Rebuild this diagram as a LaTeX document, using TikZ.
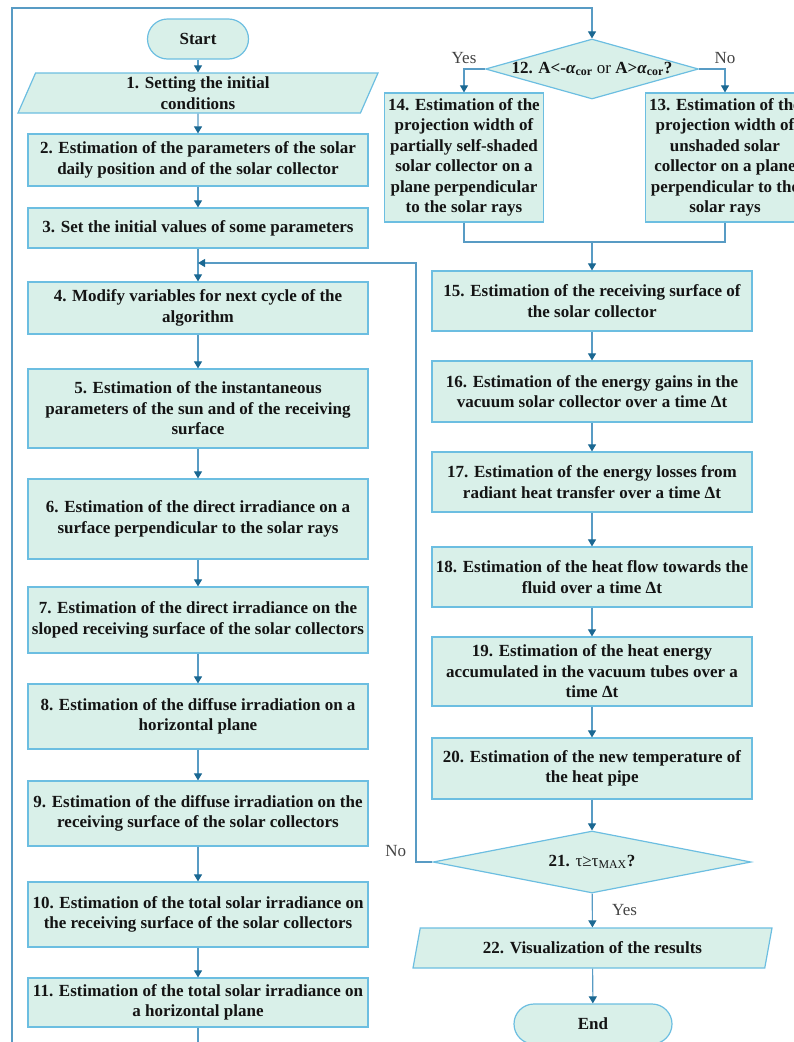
\documentclass[tikz,border=0pt]{standalone}
\usepackage{fontspec}
\setmainfont{Liberation Serif}
\usepackage{xcolor}
\usepackage{tikz}
\usetikzlibrary{positioning,shapes.geometric,arrows.meta}

\definecolor{boxfill}{RGB}{217,240,233}
\definecolor{boxline}{RGB}{108,190,225}
\definecolor{linkline}{RGB}{88,155,196}
\definecolor{tipcol}{RGB}{27,104,146}
\definecolor{txtcol}{RGB}{20,20,20}

\begin{document}
\begin{tikzpicture}[x=1pt, y=-1pt,
  procnode/.style={rectangle, draw=boxline, fill=boxfill, line width=1.2pt, align=center, inner sep=1pt, minimum width=340pt, text=txtcol, font=\bfseries\fontsize{17}{20.5}\selectfont},
  ionode/.style={trapezium, trapezium left angle=63, trapezium right angle=117, trapezium stretches body, draw=boxline, fill=boxfill, line width=1.2pt, align=center, inner sep=1pt, text=txtcol, font=\bfseries\fontsize{17}{20.5}\selectfont},
  decnode/.style={diamond, aspect=3.5, draw=boxline, fill=boxfill, line width=1.2pt, inner sep=0pt, text height=11pt, text depth=3pt, text=txtcol, font=\bfseries\fontsize{17}{20.5}\selectfont},
  termnode/.style={rectangle, rounded corners=20pt, draw=boxline, fill=boxfill, line width=1.2pt, minimum height=40pt, text=txtcol, font=\bfseries\fontsize{17}{20.5}\selectfont},
  linkarrow/.style={draw=linkline, line width=1.1pt, -{Triangle[width=8pt,length=7pt,color=tipcol]}},
  link/.style={draw=linkline, line width=1.1pt},
  answer/.style={text=txtcol!80, font=\fontsize{17}{20}\selectfont}]

\useasboundingbox (0,0) rectangle (793,1042);

\node[termnode, minimum width=101pt] (start) at (198,39) {Start};
\node[ionode, minimum width=360pt, minimum height=40pt] (b1) at (198,93) {1. Setting the initial\\conditions};
\node[procnode, minimum height=52pt] (b2) at (198,160) {2. Estimation of the parameters of the solar\\daily position and of the solar collector};
\node[procnode, minimum height=40pt] (b3) at (198,228) {3. Set the initial values of some parameters};
\node[procnode, minimum height=52pt] (b4) at (198,308) {4. Modify variables for next cycle of the\\algorithm};
\node[procnode, minimum height=79pt] (b5) at (198,408.5) {5. Estimation of the instantaneous\\parameters of the sun and of the receiving\\surface};
\node[procnode, minimum height=80pt] (b6) at (198,519) {6. Estimation of the direct irradiance on a\\surface perpendicular to the solar rays};
\node[procnode, minimum height=66pt] (b7) at (198,620) {7. Estimation of the direct irradiance on the\\sloped receiving surface of the solar collectors};
\node[procnode, minimum height=65pt] (b8) at (198,716.5) {8. Estimation of the diffuse irradiation on a\\horizontal plane};
\node[procnode, minimum height=65pt] (b9) at (198,813.5) {9. Estimation of the diffuse irradiation on the\\receiving surface of the solar collectors};
\node[procnode, minimum height=65pt] (b10) at (198,914.5) {10. Estimation of the total solar irradiance on\\the receiving surface of the solar collectors};
\node[procnode, minimum height=49pt] (b11) at (198,1002.5) {11. Estimation of the total solar irradiance on\\a horizontal plane};

\node[decnode, minimum width=213pt, minimum height=60pt] (d12) at (592,69) {12. A<-\textit{α}\textsubscript{cor} {\mdseries or} A>\textit{α}\textsubscript{cor}?};
\node[procnode, minimum width=159pt, minimum height=129pt] (b14) at (464,157.5) {14. Estimation of the\\projection width of\\partially self-shaded\\solar collector on a\\plane perpendicular\\to the solar rays};
\node[procnode, minimum width=159pt, minimum height=129pt] (b13) at (725,157.5) {13. Estimation of the\\projection width of\\unshaded solar\\collector on a plane\\perpendicular to the\\solar rays};
\node[procnode, minimum width=320pt, minimum height=60pt] (b15) at (592,301) {15. Estimation of the receiving surface of\\the solar collector};
\node[procnode, minimum width=320pt, minimum height=61pt] (b16) at (592,391.5) {16. Estimation of the energy gains in the\\vacuum solar collector over a time Δt};
\node[procnode, minimum width=320pt, minimum height=60pt] (b17) at (592,482) {17. Estimation of the energy losses from\\radiant heat transfer over a time Δt};
\node[procnode, minimum width=320pt, minimum height=60pt] (b18) at (592,577) {18. Estimation of the heat flow towards the\\fluid over a time Δt};
\node[procnode, minimum width=320pt, minimum height=69pt] (b19) at (592,671.5) {19. Estimation of the heat energy\\accumulated in the vacuum tubes over a\\time Δt};
\node[procnode, minimum width=320pt, minimum height=61pt] (b20) at (592,768.5) {20. Estimation of the new temperature of\\the heat pipe};
\node[decnode, minimum width=318pt, minimum height=62pt] (d21) at (592,862) {21. {\mdseries τ≥τ\textsubscript{MAX}}?};
\node[ionode, minimum width=359pt, minimum height=40pt] (b22) at (592.5,948) {22. Visualization of the results};
\node[termnode, minimum width=158pt] (end) at (593,1024) {End};

\coordinate (loopbl) at (12,1070);
\coordinate (looptl) at (12,8);
\coordinate (merge) at (592,242);
\coordinate (backr) at (416,263);
\coordinate (backin) at (198,263);

\draw[linkarrow] (start) -- (b1);
\draw[linkarrow] (b1) -- (b2);
\draw[linkarrow] (b2) -- (b3);
\draw[linkarrow] (b3) -- (b4);
\draw[linkarrow] (b4) -- (b5);
\draw[linkarrow] (b5) -- (b6);
\draw[linkarrow] (b6) -- (b7);
\draw[linkarrow] (b7) -- (b8);
\draw[linkarrow] (b8) -- (b9);
\draw[linkarrow] (b9) -- (b10);
\draw[linkarrow] (b10) -- (b11);
\draw[linkarrow] (b11.south) |- (loopbl) -- (looptl) -| (d12.north);

\draw[linkarrow] (d12.west) -| (b14.north) node[answer, pos=0.5, above=1pt] {Yes};
\draw[linkarrow] (d12.east) -| (b13.north) node[answer, pos=0.5, above=1pt] {No};
\draw[link] (b14.south) |- (merge);
\draw[link] (b13.south) |- (merge);
\draw[linkarrow] (merge) -- (b15.north);
\draw[linkarrow] (b15) -- (b16);
\draw[linkarrow] (b16) -- (b17);
\draw[linkarrow] (b17) -- (b18);
\draw[linkarrow] (b18) -- (b19);
\draw[linkarrow] (b19) -- (b20);
\draw[linkarrow] (b20) -- (d21);
\draw[linkarrow] (d21) -- (b22) node[answer, midway, right=16pt] {Yes};
\draw[linkarrow] (b22) -- (end);
\draw[linkarrow] (d21.west) -| (backr) node[answer, pos=0.5, above left=1pt and 6pt] {No} -- (backin);

\end{tikzpicture}
\end{document}
